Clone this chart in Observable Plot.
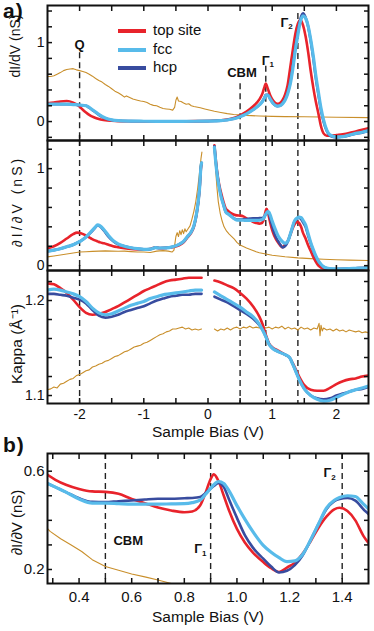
<!DOCTYPE html>
<html><head><meta charset="utf-8">
<script src="https://cdn.jsdelivr.net/npm/d3@7"></script>
<script src="https://cdn.jsdelivr.net/npm/@observablehq/plot@0.6"></script>
<style>
body{margin:0;background:#fff;font-family:"Liberation Sans",Arial,Helvetica,sans-serif;color:#111}
#wrap{position:relative;width:374px;height:631px;overflow:hidden}
#wrap svg{display:block;position:absolute;left:0}
.abs{position:absolute;white-space:nowrap}
.panel-tag{font-weight:bold;font-size:21px;line-height:22px;letter-spacing:1px}
.leg{position:absolute;left:118px;font-size:15px;white-space:nowrap}
.leg span.sw{position:absolute;left:0;width:28px;height:4px}
.leg span.tx{position:absolute;left:35px;top:-10px;line-height:18px;white-space:nowrap}
</style></head><body><div id="wrap"></div>
<script>
// ---------- data ----------
const seriesNames = ["top site", "fcc", "hcp"];
// dI/dV (nS): [bias, top site, fcc, hcp]
const didvCurves = [
[-2.5,0.23,0.22,0.22],[-2.4,0.24,0.22,0.22],[-2.3,0.255,0.22,0.22],[-2.2,0.26,0.22,0.22],
[-2.1,0.24,0.215,0.215],[-2.0,0.19,0.21,0.21],[-1.95,0.15,0.205,0.205],[-1.9,0.115,0.2,0.2],
[-1.85,0.085,0.18,0.175],[-1.8,0.062,0.15,0.145],[-1.75,0.045,0.12,0.115],[-1.7,0.032,0.09,0.085],
[-1.65,0.022,0.065,0.06],[-1.6,0.016,0.045,0.042],[-1.5,0.01,0.022,0.02],[-1.4,0.006,0.012,0.011],
[-1.2,0.004,0.006,0.006],[-1.0,0.003,0.004,0.004],[-0.8,0.003,0.003,0.003],[-0.6,0.003,0.003,0.003],
[-0.4,0.004,0.003,0.003],[-0.2,0.005,0.004,0.004],[0.0,0.007,0.006,0.006],[0.2,0.016,0.012,0.012],
[0.3,0.026,0.02,0.02],[0.4,0.045,0.035,0.035],[0.5,0.078,0.062,0.063],[0.6,0.125,0.098,0.1],
[0.7,0.19,0.148,0.15],[0.8,0.28,0.21,0.212],[0.85,0.36,0.255,0.258],[0.88,0.44,0.3,0.305],
[0.9,0.48,0.33,0.34],[0.93,0.42,0.335,0.34],[0.97,0.33,0.285,0.285],[1.02,0.26,0.225,0.225],
[1.08,0.225,0.195,0.195],[1.12,0.235,0.2,0.2],[1.16,0.27,0.225,0.23],[1.2,0.34,0.27,0.28],
[1.24,0.46,0.35,0.36],[1.28,0.68,0.47,0.49],[1.32,0.9,0.66,0.69],[1.36,1.11,0.9,0.93],
[1.4,1.24,1.1,1.13],[1.44,1.29,1.27,1.3],[1.48,1.22,1.34,1.37],[1.52,1.08,1.31,1.32],
[1.56,0.88,1.21,1.2],[1.6,0.64,1.04,1.02],[1.64,0.43,0.83,0.8],[1.68,0.25,0.58,0.55],
[1.72,0.1,0.37,0.34],[1.76,-0.06,0.17,0.14],[1.8,-0.15,0.02,0.0],[1.85,-0.18,-0.11,-0.12],
[1.9,-0.18,-0.17,-0.18],[2.0,-0.17,-0.195,-0.2],[2.1,-0.16,-0.19,-0.19],[2.2,-0.145,-0.17,-0.175],
[2.3,-0.125,-0.15,-0.155],[2.4,-0.105,-0.135,-0.14],[2.5,-0.085,-0.115,-0.12]
];
// reference (orange) dI/dV: [bias, value]
const didvRef = [
[-2.5,0.57],[-2.45,0.57],[-2.4,0.58],[-2.35,0.6],[-2.3,0.62],[-2.25,0.645],[-2.2,0.66],[-2.15,0.665],
[-2.1,0.67],[-2.05,0.655],[-2.0,0.645],[-1.95,0.635],[-1.9,0.62],[-1.85,0.6],[-1.8,0.575],[-1.75,0.545],
[-1.7,0.52],[-1.65,0.5],[-1.6,0.47],[-1.55,0.445],[-1.5,0.415],[-1.45,0.385],[-1.4,0.365],[-1.35,0.34],
[-1.3,0.31],[-1.27,0.325],[-1.22,0.305],[-1.17,0.285],[-1.1,0.27],[-1.05,0.26],[-1.0,0.255],[-0.95,0.24],
[-0.9,0.22],[-0.85,0.205],[-0.8,0.2],[-0.75,0.18],[-0.7,0.165],[-0.65,0.16],[-0.6,0.155],[-0.55,0.145],
[-0.52,0.18],[-0.5,0.27],[-0.48,0.31],[-0.46,0.26],[-0.42,0.255],[-0.38,0.235],[-0.34,0.22],[-0.3,0.225],
[-0.26,0.2],[-0.22,0.19],[-0.18,0.185],[-0.12,0.175],[-0.05,0.16],[0.0,0.15],[0.05,0.14],[0.1,0.13],
[0.2,0.115],[0.3,0.1],[0.4,0.09],[0.5,0.084],[0.6,0.078],[0.8,0.07],[1.0,0.065],[1.2,0.062],[1.5,0.06],
[2.0,0.055],[2.5,0.05]
];
// ∂I/∂V (nS), negative bias branch: [bias, top site, fcc, hcp]
const dIdVLeft = [
[-2.5,0.18,0.15,0.15],[-2.4,0.2,0.16,0.16],[-2.3,0.235,0.175,0.175],[-2.2,0.28,0.195,0.195],
[-2.1,0.325,0.215,0.215],[-2.04,0.34,0.235,0.235],[-1.98,0.335,0.255,0.255],[-1.9,0.31,0.295,0.295],
[-1.82,0.28,0.35,0.345],[-1.76,0.26,0.395,0.39],[-1.72,0.25,0.42,0.415],[-1.68,0.24,0.41,0.405],
[-1.62,0.23,0.37,0.36],[-1.55,0.215,0.31,0.3],[-1.48,0.2,0.26,0.255],[-1.4,0.19,0.225,0.22],
[-1.3,0.18,0.2,0.2],[-1.2,0.172,0.185,0.185],[-1.1,0.168,0.175,0.175],[-1.0,0.166,0.168,0.168],
[-0.9,0.172,0.17,0.17],[-0.82,0.19,0.185,0.185],[-0.75,0.18,0.182,0.182],[-0.65,0.183,0.183,0.183],
[-0.55,0.19,0.195,0.195],[-0.45,0.21,0.22,0.22],[-0.38,0.24,0.25,0.25],[-0.32,0.29,0.3,0.3],
[-0.26,0.34,0.35,0.35],[-0.22,0.4,0.41,0.41],[-0.18,0.52,0.53,0.53],[-0.15,0.66,0.67,0.67],
[-0.13,0.8,0.81,0.81],[-0.11,1.0,1.02,1.02],[-0.1,1.05,1.06,1.06]
];
// ∂I/∂V (nS), positive bias branch: [bias, top site, fcc, hcp]
const dIdVRight = [
[0.1,1.24,1.22,1.23],[0.12,1.1,1.07,1.08],[0.14,0.98,0.95,0.96],[0.17,0.85,0.82,0.83],
[0.2,0.76,0.72,0.73],[0.24,0.66,0.63,0.63],[0.28,0.585,0.55,0.55],[0.31,0.565,0.535,0.535],
[0.35,0.545,0.515,0.515],[0.4,0.528,0.487,0.49],[0.45,0.518,0.47,0.475],[0.5,0.516,0.47,0.474],
[0.55,0.508,0.468,0.478],[0.6,0.487,0.466,0.481],[0.65,0.47,0.466,0.485],[0.7,0.452,0.466,0.488],
[0.75,0.44,0.467,0.488],[0.8,0.433,0.468,0.49],[0.83,0.436,0.472,0.491],[0.86,0.46,0.482,0.495],
[0.88,0.51,0.505,0.51],[0.9,0.568,0.53,0.53],[0.912,0.587,0.545,0.54],[0.93,0.56,0.558,0.552],
[0.95,0.5,0.55,0.535],[0.97,0.44,0.52,0.485],[1.0,0.365,0.46,0.41],[1.03,0.31,0.405,0.34],
[1.06,0.27,0.355,0.29],[1.1,0.23,0.298,0.244],[1.13,0.205,0.27,0.212],[1.16,0.19,0.248,0.188],
[1.19,0.208,0.232,0.195],[1.22,0.228,0.235,0.218],[1.25,0.265,0.262,0.258],[1.28,0.315,0.32,0.32],
[1.31,0.37,0.385,0.385],[1.34,0.415,0.45,0.445],[1.37,0.445,0.482,0.478],[1.39,0.451,0.493,0.487],
[1.42,0.438,0.5,0.491],[1.45,0.4,0.497,0.48],[1.48,0.338,0.467,0.446],[1.52,0.28,0.42,0.4],
[1.56,0.21,0.33,0.31],[1.6,0.15,0.24,0.23],[1.64,0.09,0.165,0.155],[1.68,0.04,0.1,0.09],
[1.72,0.0,0.05,0.045],[1.76,-0.02,0.015,0.01],[1.8,-0.03,-0.01,-0.012],[1.85,-0.035,-0.025,-0.027],
[1.9,-0.037,-0.03,-0.032],[2.0,-0.037,-0.033,-0.034],[2.1,-0.035,-0.032,-0.033],[2.2,-0.032,-0.03,-0.031],
[2.3,-0.028,-0.027,-0.028],[2.4,-0.024,-0.024,-0.024],[2.5,-0.02,-0.02,-0.02]
];
const dIdVRefLeft = [
[-2.5,0.09],[-2.4,0.1],[-2.3,0.11],[-2.2,0.12],[-2.1,0.13],[-2.0,0.14],[-1.9,0.143],[-1.8,0.147],
[-1.7,0.15],[-1.6,0.152],[-1.5,0.15],[-1.4,0.148],[-1.3,0.15],[-1.2,0.145],[-1.1,0.14],[-1.0,0.14],
[-0.9,0.135],[-0.8,0.15],[-0.7,0.155],[-0.62,0.15],[-0.56,0.14],[-0.53,0.16],[-0.5,0.3],[-0.48,0.34],
[-0.46,0.3],[-0.44,0.36],[-0.42,0.32],[-0.4,0.37],[-0.38,0.33],[-0.36,0.38],[-0.34,0.35],[-0.31,0.38],
[-0.28,0.41],[-0.25,0.48],[-0.22,0.56],[-0.19,0.66],[-0.16,0.8],[-0.13,0.97],[-0.11,1.1],[-0.095,1.17]
];
const dIdVRefRight = [
[0.1,1.22],[0.12,0.98],[0.14,0.8],[0.16,0.66],[0.19,0.54],[0.22,0.46],[0.25,0.4],[0.29,0.355],
[0.33,0.325],[0.37,0.3],[0.41,0.273],[0.45,0.24],[0.5,0.212],[0.55,0.197],[0.6,0.182],[0.65,0.17],
[0.7,0.157],[0.75,0.143],[0.8,0.133],[0.9,0.12],[1.0,0.108],[1.2,0.092],[1.4,0.08],[1.6,0.072],
[1.8,0.066],[2.0,0.061],[2.2,0.057],[2.5,0.053]
];
// Kappa (Å⁻¹): [bias, top site, fcc, hcp]
const kappaLeft = [
[-2.5,1.218,1.211,1.207],[-2.4,1.217,1.212,1.207],[-2.3,1.213,1.211,1.206],[-2.2,1.208,1.209,1.205],
[-2.1,1.201,1.207,1.203],[-2.0,1.193,1.204,1.201],[-1.9,1.187,1.199,1.197],[-1.8,1.185,1.192,1.19],
[-1.7,1.186,1.187,1.184],[-1.6,1.188,1.185,1.182],[-1.5,1.191,1.186,1.183],[-1.4,1.194,1.189,1.185],
[-1.3,1.198,1.192,1.188],[-1.2,1.202,1.195,1.19],[-1.1,1.206,1.197,1.192],[-1.0,1.21,1.199,1.194],
[-0.9,1.213,1.202,1.197],[-0.8,1.216,1.204,1.2],[-0.7,1.219,1.206,1.202],[-0.6,1.221,1.207,1.204],
[-0.5,1.222,1.208,1.205],[-0.4,1.223,1.209,1.206],[-0.3,1.224,1.21,1.206],[-0.2,1.224,1.211,1.207],
[-0.1,1.224,1.211,1.207]
];
const kappaRight = [
[0.1,1.221,1.209,1.204],[0.2,1.219,1.205,1.201],[0.3,1.216,1.201,1.198],[0.4,1.213,1.197,1.194],
[0.5,1.208,1.193,1.19],[0.6,1.202,1.188,1.186],[0.7,1.194,1.183,1.181],[0.8,1.183,1.175,1.174],
[0.85,1.175,1.169,1.169],[0.9,1.164,1.162,1.162],[0.95,1.155,1.154,1.154],[1.0,1.151,1.15,1.15],
[1.1,1.147,1.146,1.146],[1.2,1.143,1.143,1.143],[1.27,1.14,1.14,1.14],[1.32,1.134,1.133,1.133],
[1.37,1.127,1.125,1.125],[1.42,1.12,1.117,1.117],[1.5,1.111,1.107,1.107],[1.6,1.106,1.1,1.1],
[1.7,1.105,1.096,1.097],[1.8,1.105,1.094,1.096],[1.9,1.108,1.095,1.097],[2.0,1.112,1.098,1.1],
[2.1,1.115,1.101,1.102],[2.2,1.117,1.104,1.104],[2.3,1.118,1.106,1.106],[2.4,1.12,1.108,1.107],
[2.5,1.121,1.11,1.109]
];
const kappaRefLeft = [
[-2.5,1.106],[-2.45,1.107],[-2.4,1.109],[-2.35,1.108],[-2.3,1.112],[-2.25,1.113],[-2.2,1.115],[-2.15,1.117],
[-2.1,1.118],[-2.05,1.121],[-2.0,1.122],[-1.95,1.124],[-1.9,1.126],[-1.85,1.127],[-1.8,1.13],[-1.75,1.131],
[-1.7,1.133],[-1.65,1.134],[-1.6,1.136],[-1.55,1.137],[-1.5,1.139],[-1.45,1.141],[-1.4,1.142],[-1.35,1.144],
[-1.3,1.146],[-1.25,1.147],[-1.2,1.149],[-1.15,1.151],[-1.1,1.152],[-1.05,1.153],[-1.0,1.155],[-0.95,1.156],
[-0.9,1.158],[-0.85,1.16],[-0.8,1.162],[-0.75,1.164],[-0.7,1.165],[-0.65,1.167],[-0.6,1.168],[-0.55,1.17],
[-0.5,1.17],[-0.45,1.171],[-0.4,1.172],[-0.35,1.17],[-0.3,1.171],[-0.25,1.169],[-0.2,1.17],[-0.15,1.169],
[-0.1,1.17]
];
const kappaRefRight = [
[0.1,1.17],[0.15,1.168],[0.2,1.17],[0.25,1.169],[0.3,1.171],[0.35,1.169],[0.4,1.171],[0.45,1.172],
[0.5,1.17],[0.55,1.172],[0.6,1.171],[0.65,1.173],[0.7,1.171],[0.75,1.172],[0.8,1.171],[0.85,1.173],
[0.9,1.171],[0.95,1.172],[1.0,1.17],[1.05,1.172],[1.1,1.171],[1.15,1.173],[1.2,1.17],[1.25,1.172],
[1.3,1.17],[1.35,1.171],[1.4,1.169],[1.45,1.172],[1.5,1.17],[1.55,1.171],[1.6,1.169],[1.65,1.171],
[1.7,1.17],[1.73,1.176],[1.745,1.163],[1.76,1.174],[1.78,1.168],[1.8,1.171],[1.85,1.169],[1.9,1.17],
[1.95,1.168],[2.0,1.17],[2.05,1.168],[2.1,1.169],[2.15,1.167],[2.2,1.169],[2.25,1.168],[2.3,1.167],
[2.35,1.168],[2.4,1.166],[2.45,1.167],[2.5,1.166]
];
// markers (dashed lines) and their labels
const markerBias = [-2.0, 0.5, 0.9, 1.4];
const markerTopA = [0.87, 0.48, 0.7, 1.37];          // dI/dV value where dashed line starts in top panel
const labelsA = [{t:"Q",x:-2.0,y:0.97},{t:"CBM",x:0.53,y:0.62},{t:"Γ",x:0.9,y:0.77,s:"1"},{t:"Γ",x:1.19,y:1.25,s:"2"}];
const markerBiasB = [0.5, 0.9, 1.4];
const labelsB = [{t:"CBM",x:0.587,y:0.315},{t:"Γ",x:0.853,y:0.283,s:"1"},{t:"Γ",x:1.344,y:0.592,s:"2"}];
// axes
const biasTicksA = [-2,-1.5,-1,-0.5,0,0.5,1,1.5,2];
const biasTicksB = [0.3,0.4,0.5,0.6,0.7,0.8,0.9,1.0,1.1,1.2,1.3,1.4];
const biasLabelsB = [0.4,0.6,0.8,1.0,1.2,1.4];
const didvTicks = [-0.2,0,0.2,0.4,0.6,0.8,1.0,1.2,1.4];
const dIdVTicks = [0,0.2,0.4,0.6,0.8,1.0,1.2];
const condLabels = [0,1];
const kappaTicks = [1.1,1.12,1.14,1.16,1.18,1.2,1.22];
const kappaLabels = [1.1,1.2];
const bTicksY = [0.2,0.3,0.4,0.5,0.6];
const bLabelsY = [0.2,0.6];
const domA = [-2.5,2.5], domB = [0.28,1.5];
const domDidv = [-0.24,1.47], domdIdV = [-0.05,1.29], domKappa = [1.0916,1.2316], domBY = [0.143,0.672];

// ---------- drawing ----------
const FONT = "Liberation Sans, Arial, Helvetica, sans-serif";
const C = {top:"#e8232b", fcc:"#58bbea", hcp:"#384c9f", ref:"#c98f2b"};
const W = {top:2.6, fcc:3.2, hcp:2.6, ref:1.1};
const near = (a,b) => Math.abs(a-b) < 1e-9;
const fmtA = d => Number.isInteger(d) ? (d < 0 ? "-" + (-d) : String(d)) : "";
const pick = labels => d => labels.some(l => near(l,d)) ? String(d) : "";
const pickFixed = labels => d => labels.some(l => near(l,d)) ? d.toFixed(1) : "";

function curveMarks(rows, ref) {
  const m = [];
  if (ref) m.push(Plot.line(ref, {x: r=>r[0], y: r=>r[1], stroke: C.ref, strokeWidth: W.ref, clip: true}));
  m.push(Plot.line(rows, {x: r=>r[0], y: r=>r[1], stroke: C.top, strokeWidth: W.top, curve: "monotone-x", clip: true}));
  m.push(Plot.line(rows, {x: r=>r[0], y: r=>r[3], stroke: C.hcp, strokeWidth: W.hcp, curve: "monotone-x", clip: true}));
  m.push(Plot.line(rows, {x: r=>r[0], y: r=>r[2], stroke: C.fcc, strokeWidth: W.fcc, curve: "monotone-x", clip: true}));
  return m;
}
function frameMarks({xTicks, xFmt, yTicks, yFmt, fs, xPad}) {
  const blank = () => "";
  return [
    Plot.frame({strokeWidth: 2}),
    Plot.axisX({ticks: xTicks, anchor: "top", tickSize: -5, strokeWidth: 1.5, tickFormat: blank, label: null}),
    Plot.axisX({ticks: xTicks, anchor: "bottom", tickSize: -5, tickPadding: xPad, strokeWidth: 1.5, tickFormat: xFmt, fontSize: fs, label: null}),
    Plot.axisY({ticks: yTicks, anchor: "left", tickSize: -5, tickPadding: 8, strokeWidth: 1.5, tickFormat: yFmt, fontSize: fs, label: null}),
    Plot.axisY({ticks: yTicks, anchor: "right", tickSize: -5, strokeWidth: 1.5, tickFormat: blank, label: null})
  ];
}
function yLabel(text, dx, dy, fs) {
  return Plot.text([text], {frameAnchor: "left", textAnchor: "middle", lineAnchor: "middle", rotate: -90, dx, dy, fontSize: fs, text: d => d});
}
function xLabel(text, dy) {
  return Plot.text([text], {frameAnchor: "bottom", textAnchor: "middle", lineAnchor: "middle", dy, fontSize: 15.5, text: d => d});
}
function annot(labels, fs) {
  return [
    Plot.text(labels, {x: "x", y: "y", text: "t", fontWeight: "bold", fontSize: fs}),
    Plot.text(labels.filter(d => d.s), {x: "x", y: "y", text: "s", fontWeight: "bold", fontSize: 8, dx: 6, dy: 4})
  ];
}
const dash = {stroke: "#222", strokeWidth: 1.4, strokeDasharray: "6,4"};
const base = {width: 374, marginLeft: 47, marginRight: 6, style: {fontFamily: FONT, color: "#111", background: "transparent", overflow: "visible"}};

const p1 = Plot.plot({...base, height: 140, marginTop: 5, marginBottom: 0,
  x: {domain: domA}, y: {domain: domDidv},
  marks: [
    Plot.ruleX(markerBias.map((b,i)=>({b, t: markerTopA[i]})), {x: "b", y1: "t", y2: domDidv[0], ...dash}),
    ...curveMarks(didvCurves, didvRef),
    ...annot(labelsA, 13),
    yLabel("dI/dV (nS)", -32, -27, 14),
    ...frameMarks({xTicks: biasTicksA, xFmt: () => "", yTicks: didvTicks, yFmt: pick(condLabels), fs: 14, xPad: 10})
  ]});
const p2 = Plot.plot({...base, height: 130, marginTop: 0, marginBottom: 0,
  x: {domain: domA}, y: {domain: domdIdV},
  marks: [
    Plot.ruleX(markerBias, {x: d => d, ...dash}),
    ...curveMarks(dIdVLeft, dIdVRefLeft),
    ...curveMarks(dIdVRight, dIdVRefRight),
    yLabel("∂I/∂V (nS)", -30, -4, 14),
    ...frameMarks({xTicks: biasTicksA, xFmt: () => "", yTicks: dIdVTicks, yFmt: pick(condLabels), fs: 14, xPad: 10})
  ]});
const p3 = Plot.plot({...base, height: 170, marginTop: 0, marginBottom: 37,
  x: {domain: domA}, y: {domain: domKappa},
  marks: [
    Plot.ruleX(markerBias, {x: d => d, ...dash}),
    ...curveMarks(kappaLeft, kappaRefLeft),
    ...curveMarks(kappaRight, kappaRefRight),
    yLabel("Kappa (Å⁻¹)", -30, 7, 15.5),
    xLabel("Sample Bias (V)", 29),
    ...frameMarks({xTicks: biasTicksA, xFmt: fmtA, yTicks: kappaTicks, yFmt: pickFixed(kappaLabels), fs: 14, xPad: 11})
  ]});
const pb = Plot.plot({...base, height: 191, marginTop: 13, marginBottom: 48,
  x: {domain: domB}, y: {domain: domBY},
  marks: [
    Plot.ruleX(markerBiasB, {x: d => d, ...dash}),
    ...curveMarks(dIdVRight.filter(r => r[0] >= 0.25), dIdVRefRight.filter(r => r[0] >= 0.25 && r[0] <= 0.8)),
    ...annot(labelsB, 13),
    yLabel("∂I/∂V (nS)", -30, 4, 15),
    xLabel("Sample Bias (V)", 34),
    ...frameMarks({xTicks: biasTicksB, xFmt: pickFixed(biasLabelsB), yTicks: bTicksY, yFmt: pickFixed(bLabelsY), fs: 15, xPad: 13})
  ]});

const wrap = document.getElementById("wrap");
[[p1,0],[p2,140],[p3,270],[pb,440]].forEach(([p,t]) => { p.style.top = t + "px"; wrap.appendChild(p); });
// the ∂I/∂V label of panel a is spaced out in the original
d3.select(p2).selectAll("text").filter(function(){ return this.textContent === "∂I/∂V (nS)"; }).style("letter-spacing", "3px");

// panel tags and legend
function addDiv(cls, html, css) { const d = document.createElement("div"); d.className = cls; d.innerHTML = html; Object.assign(d.style, css); wrap.appendChild(d); return d; }
addDiv("abs panel-tag", "a)", {left: "3px", top: "0px"});
addDiv("abs panel-tag", "b)", {left: "3px", top: "434px"});
const legendColors = [C.top, C.fcc, C.hcp];
const legendY = [31, 50, 68];
seriesNames.forEach((n,i) => {
  addDiv("leg", `<span class="sw" style="background:${legendColors[i]};top:-2px"></span><span class="tx">${n}</span>`, {top: legendY[i] + "px"});
});
</script></body></html>
